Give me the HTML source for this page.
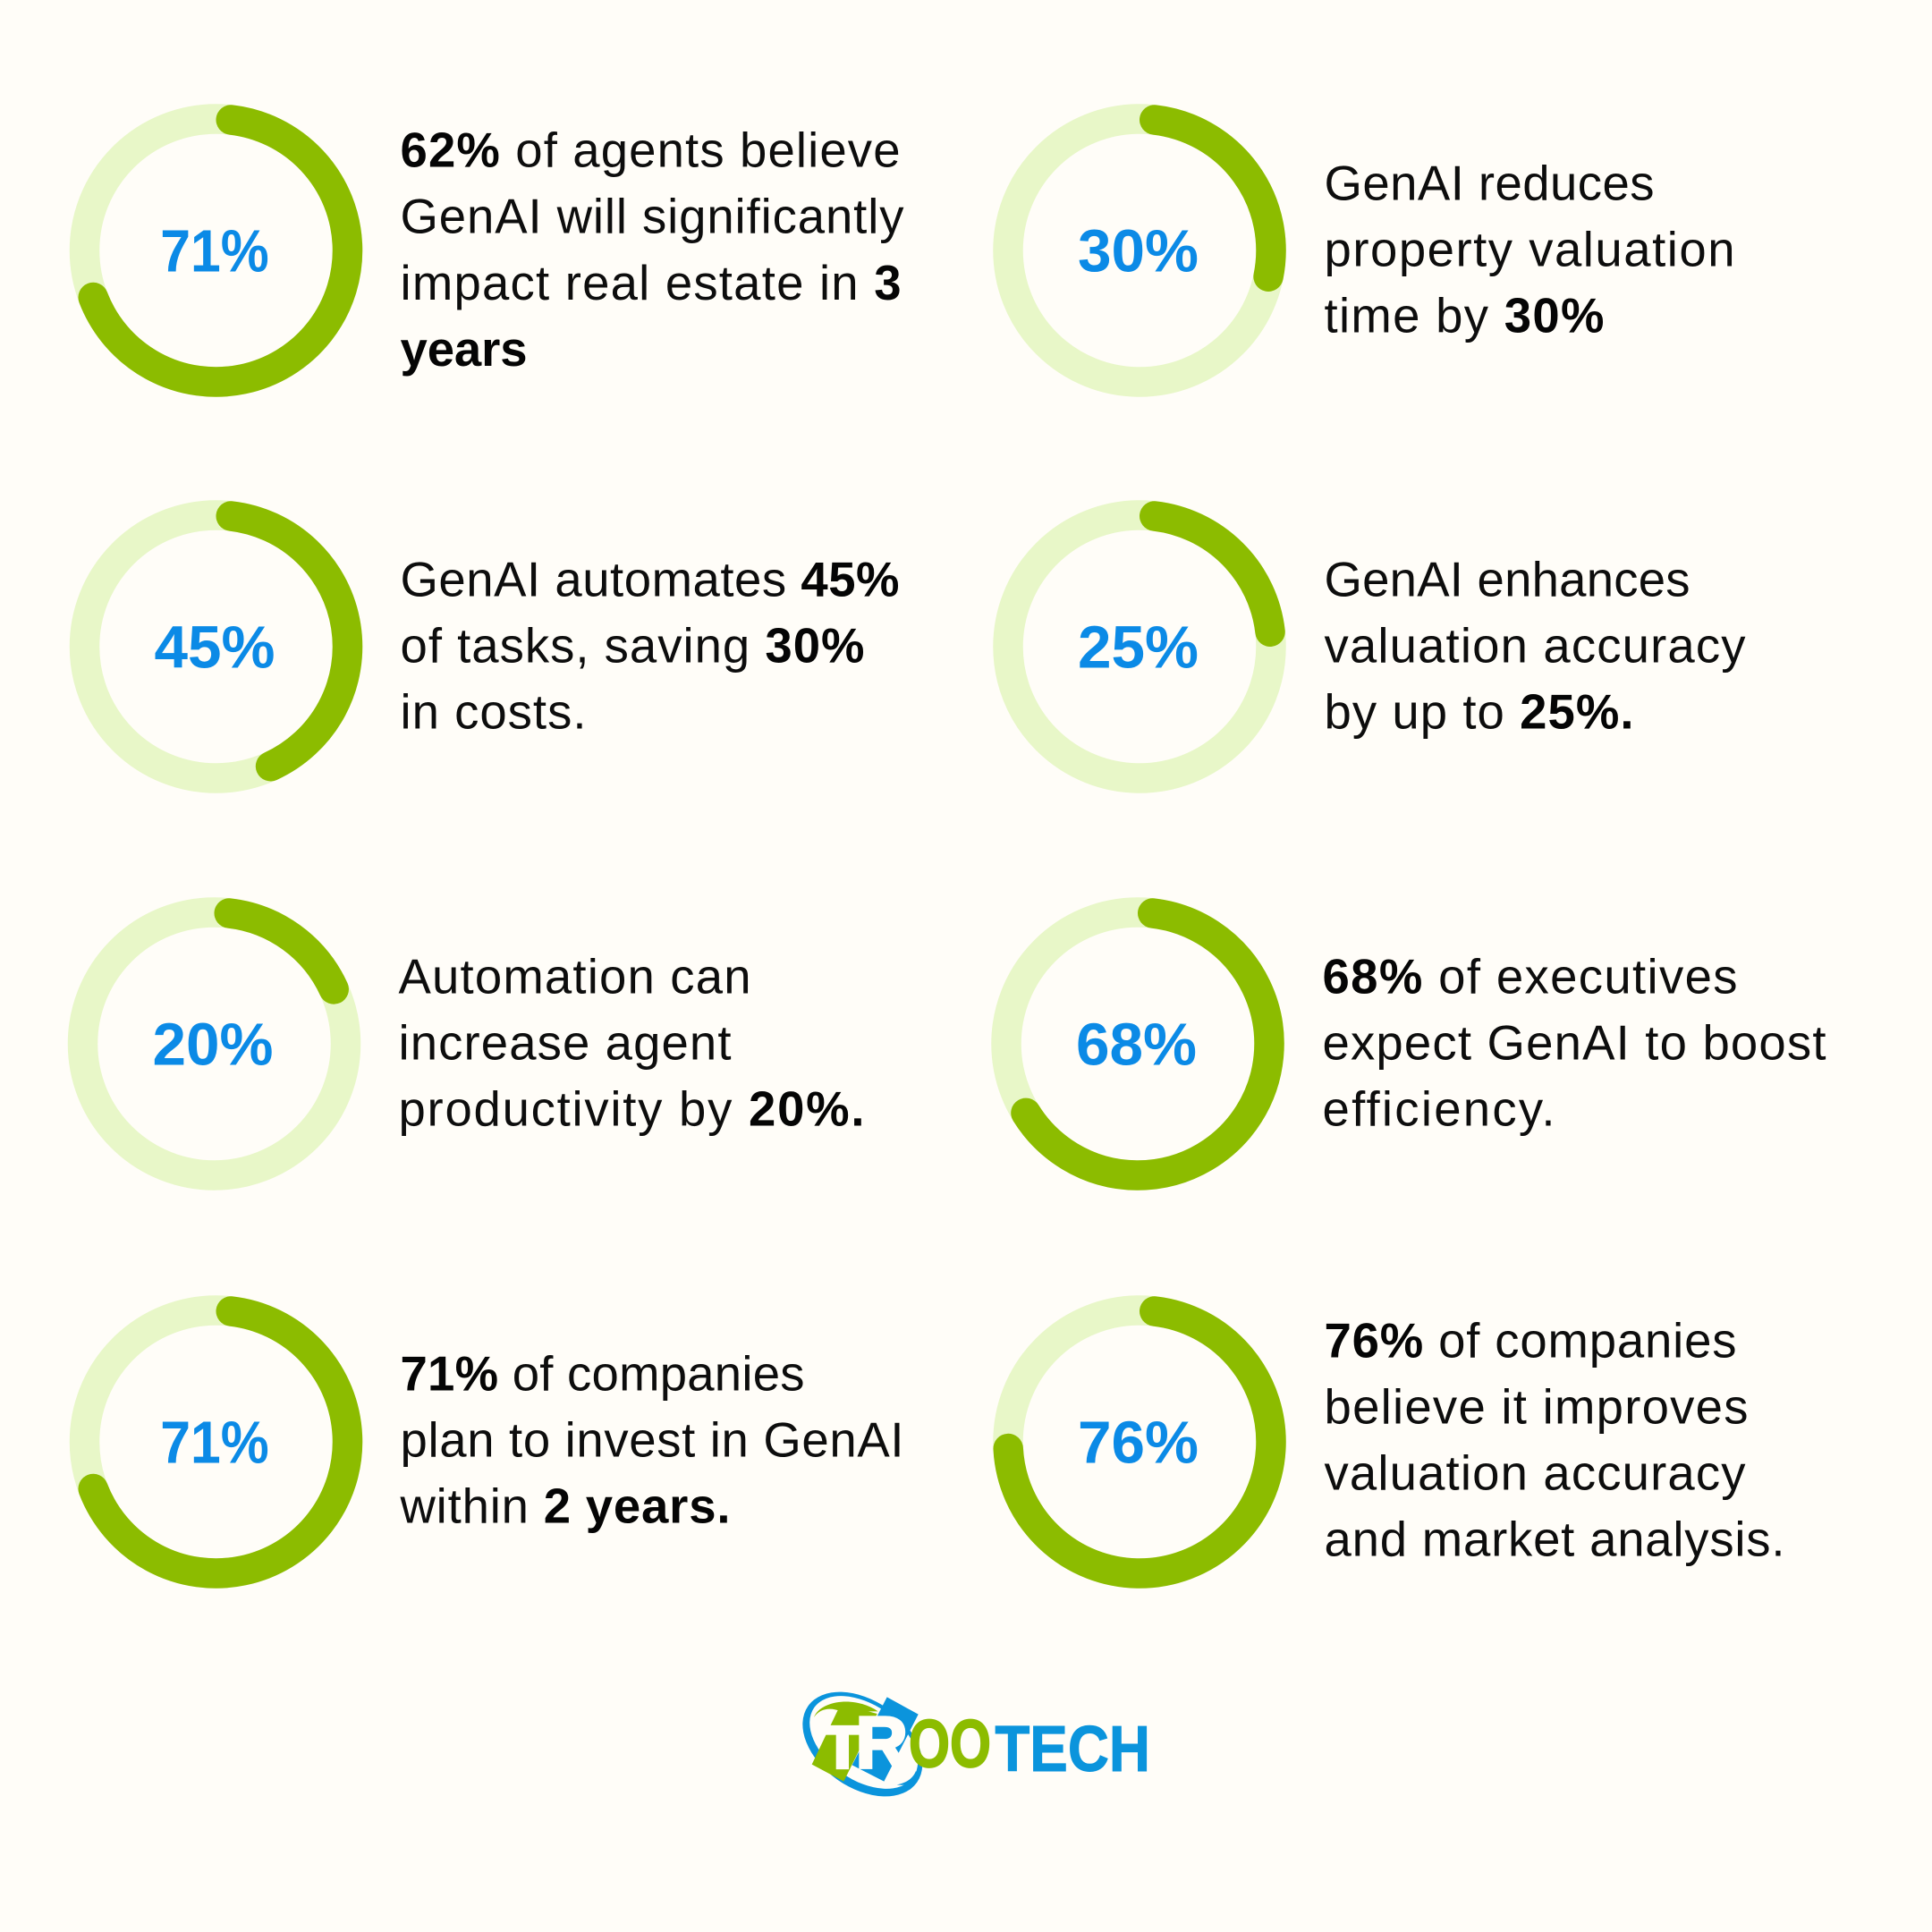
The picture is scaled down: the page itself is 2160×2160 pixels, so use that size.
<!DOCTYPE html>
<html lang="en">
<head>
<meta charset="utf-8">
<title>GenAI in real estate statistics</title>
<style>
html,body{margin:0;padding:0;background:#fffdf8;}
svg{display:block;}
.t{font-family:"Liberation Sans",sans-serif;font-size:54.5px;fill:#0d0d0d;}
.t tspan.b,.b{font-weight:700;fill:#050505;}
.v{font-family:"Liberation Sans",sans-serif;font-size:67px;font-weight:700;fill:#0b8ae6;text-anchor:middle;}
.lg{font-family:"Liberation Sans",sans-serif;font-weight:700;}
</style>
</head>
<body>
<svg id="chart" width="2160" height="2160" viewBox="0 0 2160 2160" xmlns="http://www.w3.org/2000/svg">
  <rect width="2160" height="2160" fill="#fffdf8"/>
  <g id="donuts"></g>

  <g transform="translate(-0.5 0.5)">
    <text class="t" x="448" y="186" textLength="559"><tspan class="b">62%</tspan> of agents believe</text>
    <text class="t" x="448" y="260" textLength="563">GenAI will significantly</text>
    <text class="t" x="448" y="334.5" textLength="560">impact real estate in <tspan class="b">3</tspan></text>
    <text class="t b" x="448" y="408.5" textLength="142">years</text>
  </g>
  <g transform="translate(-0.5 0.5)">
    <text class="t" x="1481" y="223" textLength="369">GenAI reduces</text>
    <text class="t" x="1481" y="297" textLength="459">property valuation</text>
    <text class="t" x="1481" y="371" textLength="313">time by <tspan class="b">30%</tspan></text>
  </g>
  <g transform="translate(-0.5 0.5)">
    <text class="t" x="448" y="666" textLength="558">GenAI automates <tspan class="b">45%</tspan></text>
    <text class="t" x="448" y="740" textLength="519">of tasks, saving <tspan class="b">30%</tspan></text>
    <text class="t" x="448" y="814" textLength="208">in costs.</text>
  </g>
  <g transform="translate(-0.5 0.5)">
    <text class="t" x="1481" y="666" textLength="409">GenAI enhances</text>
    <text class="t" x="1481" y="740" textLength="471">valuation accuracy</text>
    <text class="t" x="1481" y="814" textLength="346">by up to <tspan class="b">25%.</tspan></text>
  </g>
  <g transform="translate(-0.5 0.5)">
    <text class="t" x="446" y="1110" textLength="394">Automation can</text>
    <text class="t" x="446" y="1184" textLength="372">increase agent</text>
    <text class="t" x="446" y="1258" textLength="521">productivity by <tspan class="b">20%.</tspan></text>
  </g>
  <g transform="translate(-0.5 0.5)">
    <text class="t" x="1479" y="1110" textLength="464"><tspan class="b">68%</tspan> of executives</text>
    <text class="t" x="1479" y="1184" textLength="563">expect GenAI to boost</text>
    <text class="t" x="1479" y="1258" textLength="260">efficiency.</text>
  </g>
  <g transform="translate(-0.5 0.5)">
    <text class="t" x="448" y="1554" textLength="452"><tspan class="b">71%</tspan> of companies</text>
    <text class="t" x="448" y="1628" textLength="563">plan to invest in GenAI</text>
    <text class="t" x="448" y="1702" textLength="369">within <tspan class="b">2 years.</tspan></text>
  </g>
  <g transform="translate(-0.5 0.5)">
    <text class="t" x="1481" y="1517" textLength="461"><tspan class="b">76%</tspan> of companies</text>
    <text class="t" x="1481" y="1591" textLength="474">believe it improves</text>
    <text class="t" x="1481" y="1665" textLength="471">valuation accuracy</text>
    <text class="t" x="1481" y="1739" textLength="515">and market analysis.</text>
  </g>

  <g transform="translate(860 1860) scale(0.33333)">
    <ellipse cx="313" cy="270" rx="223" ry="146" transform="rotate(35 313 270)" fill="#0b94dc"/>
    <ellipse cx="317" cy="264" rx="203" ry="126" transform="rotate(35 317 264)" fill="#fffdf8"/>
    <path d="M150 180 C170 125 285 105 365 160 L240 160 C205 145 170 150 150 180Z" fill="#8cbc00"/>
    <path d="M428 406 C460 400 482 385 492 360 C505 395 470 412 428 406Z" fill="#0b94dc"/>
    <polygon points="395,112 500,170 385,395 278,340" fill="#0b94dc"/>
    <polygon points="240,135 362,168 250,395 143,338" fill="#8cbc00"/>
    <text class="lg" x="178" y="350" font-size="200" fill="#fffdf8" stroke="#fffdf8" stroke-width="10" textLength="135" lengthAdjust="spacingAndGlyphs">T</text>
    <text class="lg" x="290" y="350" font-size="245" fill="#fffdf8" stroke="#fffdf8" stroke-width="10" textLength="175" lengthAdjust="spacingAndGlyphs">R</text>
    <text class="lg" x="468" y="346" font-size="225" fill="#8cbc00" stroke="#8cbc00" stroke-width="5" textLength="276" lengthAdjust="spacingAndGlyphs">OO</text>
    <text class="lg" x="757" y="360" font-size="216" fill="#0b94dc" stroke="#0b94dc" stroke-width="3" textLength="521" lengthAdjust="spacingAndGlyphs">TECH</text>
  </g>
</svg>
<script>
const statValues = [71, 30, 45, 25, 20, 68, 71, 76];
const statNames = ['agents-believe', 'valuation-time', 'automates-tasks', 'valuation-accuracy', 'agent-productivity', 'executives', 'companies-invest', 'market-analysis'];

const NS = 'http://www.w3.org/2000/svg';
const donuts = document.getElementById('donuts');
const R = 147;
const STROKE = 33.5;
const CAP = Math.asin(STROKE / 2 / R) * 180 / Math.PI;
const colX = [241.5, 1274];
const rowY = [280, 723, 1167, 1612];
const shiftX = [0, 0, 0, 0, -2, -2, 0, 0];

function valueToDeg(v) { return v * 3.6; }
function point(cx, cy, deg) {
  const a = deg * Math.PI / 180;
  return [cx + R * Math.sin(a), cy - R * Math.cos(a)];
}
function labelWidth(str) {
  let w = 0;
  for (const ch of str) {
    w += ch === '%' ? 66 : ch === '1' ? 21 : 34.5;
  }
  return w;
}

statValues.forEach(function (v, i) {
  const cx = colX[i % 2] + shiftX[i];
  const cy = rowY[Math.floor(i / 2)];
  const g = document.createElementNS(NS, 'g');
  
  

  const track = document.createElementNS(NS, 'circle');
  
  
  track.setAttribute('cx', cx);
  track.setAttribute('cy', cy);
  track.setAttribute('r', R);
  track.setAttribute('fill', 'none');
  track.setAttribute('stroke', '#e8f7c8');
  track.setAttribute('stroke-width', STROKE);
  g.appendChild(track);

  const startDeg = CAP;
  const endDeg = valueToDeg(v) - CAP;
  const s = point(cx, cy, startDeg);
  const e = point(cx, cy, endDeg);
  const large = endDeg - startDeg > 180 ? 1 : 0;
  const arc = document.createElementNS(NS, 'path');
  
  
  arc.setAttribute('d', 'M' + s[0] + ' ' + s[1] + ' A' + R + ' ' + R + ' 0 ' + large + ' 1 ' + e[0] + ' ' + e[1]);
  arc.setAttribute('fill', 'none');
  arc.setAttribute('stroke', '#8cbc00');
  arc.setAttribute('stroke-width', STROKE);
  arc.setAttribute('stroke-linecap', 'round');
  g.appendChild(arc);

  const label = document.createElementNS(NS, 'text');
  
  
  label.setAttribute('class', 'v');
  label.setAttribute('x', cx - 1.5);
  label.setAttribute('y', cy + 23.5);
  label.setAttribute('textLength', labelWidth(v + '%'));
  label.setAttribute('lengthAdjust', 'spacingAndGlyphs');
  label.textContent = v + '%';
  g.appendChild(label);

  donuts.appendChild(g);
});
</script>
</body>
</html>
